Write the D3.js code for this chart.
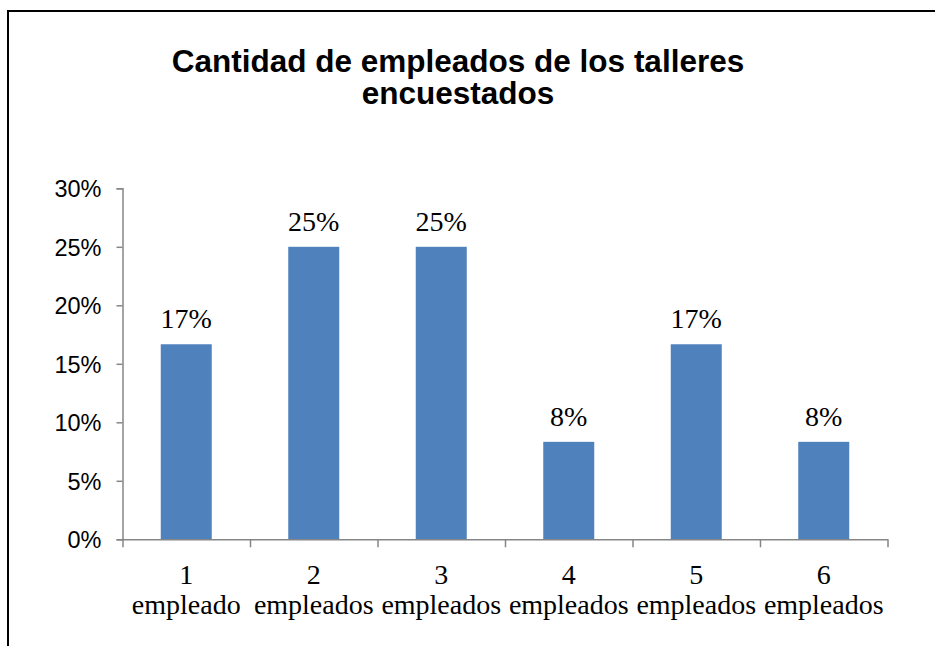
<!DOCTYPE html>
<html>
<head>
<meta charset="utf-8">
<script src="https://cdn.jsdelivr.net/npm/d3@7"></script>
<style>
html,body{margin:0;padding:0;background:#fff;}
svg{display:block;}
</style>
</head>
<body>
<svg id="chart" width="935" height="646"></svg>
<script>
const titleLines = ["Cantidad de empleados de los talleres", "encuestados"];
const categoryNumbers = ["1", "2", "3", "4", "5", "6"];
const categoryWords = ["empleado", "empleados", "empleados", "empleados", "empleados", "empleados"];
const values = [16.67, 25, 25, 8.33, 16.67, 8.33];
const valueLabels = ["17%", "25%", "25%", "8%", "17%", "8%"];
const yTicks = [0, 5, 10, 15, 20, 25, 30];

const svg = d3.select("#chart");
const W = 935, H = 646;

// outer border
svg.append("rect")
  .attr("x", 8).attr("y", 11)
  .attr("width", W + 20).attr("height", H + 20)
  .attr("fill", "none").attr("stroke", "#000").attr("stroke-width", 2);

const x0 = 122.5, x1 = 887.5, yTop = 188.3, yBottom = 539.3;

const x = d3.scaleBand()
  .domain(d3.range(categoryNumbers.length))
  .range([x0, x1])
  .paddingInner(0.6)
  .paddingOuter(0.3);

const y = d3.scaleLinear().domain([0, 30]).range([yBottom, yTop]);

// title (two separate text lines)
svg.append("g").selectAll("text")
  .data(titleLines)
  .join("text")
  .attr("x", 458)
  .attr("y", (d, i) => 72 + i * 32)
  .attr("text-anchor", "middle")
  .attr("font-family", "'Liberation Sans', Arial, sans-serif")
  .attr("font-weight", "bold")
  .attr("font-size", 31.5)
  .attr("fill", "#000")
  .text(d => d);

// bars
svg.append("g").selectAll("rect")
  .data(values)
  .join("rect")
  .attr("x", (d, i) => x(i))
  .attr("width", x.bandwidth())
  .attr("y", d => y(d))
  .attr("height", d => y(0) - y(d))
  .attr("fill", "#4F81BD");

// value labels
svg.append("g").selectAll("text")
  .data(values)
  .join("text")
  .attr("x", (d, i) => x(i) + x.bandwidth() / 2)
  .attr("y", d => y(d) - 16)
  .attr("text-anchor", "middle")
  .attr("font-family", "'Liberation Serif', 'Times New Roman', serif")
  .attr("font-size", 28)
  .attr("fill", "#000")
  .text((d, i) => valueLabels[i]);

// y axis
const yAxis = d3.axisLeft(y)
  .tickValues(yTicks)
  .tickSize(6)
  .tickPadding(15)
  .tickFormat(d => d + "%");
const gy = svg.append("g").attr("transform", `translate(${x0},0)`).call(yAxis);
gy.select(".domain").attr("stroke", "#868686").attr("stroke-width", 1.5);
gy.selectAll(".tick line").attr("stroke", "#868686").attr("stroke-width", 1.5);
gy.selectAll(".tick text")
  .attr("font-family", "'Liberation Sans', Arial, sans-serif")
  .attr("font-size", 23.5)
  .attr("fill", "#000")
  .attr("dy", "0.35em");

// x axis line and ticks at band boundaries
const xEdge = d3.scaleLinear().domain([0, categoryNumbers.length]).range([x0, x1]);
const xAxis = d3.axisBottom(xEdge)
  .tickValues(d3.range(categoryNumbers.length + 1))
  .tickSize(8)
  .tickSizeOuter(0)
  .tickFormat("");
const gx = svg.append("g").attr("transform", `translate(0,${yBottom})`).call(xAxis);
gx.select(".domain").attr("stroke", "#868686").attr("stroke-width", 1.5);
gx.selectAll(".tick line").attr("stroke", "#868686").attr("stroke-width", 1.5);

// category labels
const cat = svg.append("g").selectAll("text")
  .data(categoryNumbers)
  .join("text")
  .attr("text-anchor", "middle")
  .attr("font-family", "'Liberation Serif', 'Times New Roman', serif")
  .attr("font-size", 28)
  .attr("fill", "#000");
cat.append("tspan")
  .attr("x", (d, i) => x(i) + x.bandwidth() / 2)
  .attr("y", 584)
  .text(d => d);
cat.append("tspan")
  .attr("x", (d, i) => x(i) + x.bandwidth() / 2)
  .attr("y", 614)
  .text((d, i) => categoryWords[i]);
</script>
</body>
</html>
